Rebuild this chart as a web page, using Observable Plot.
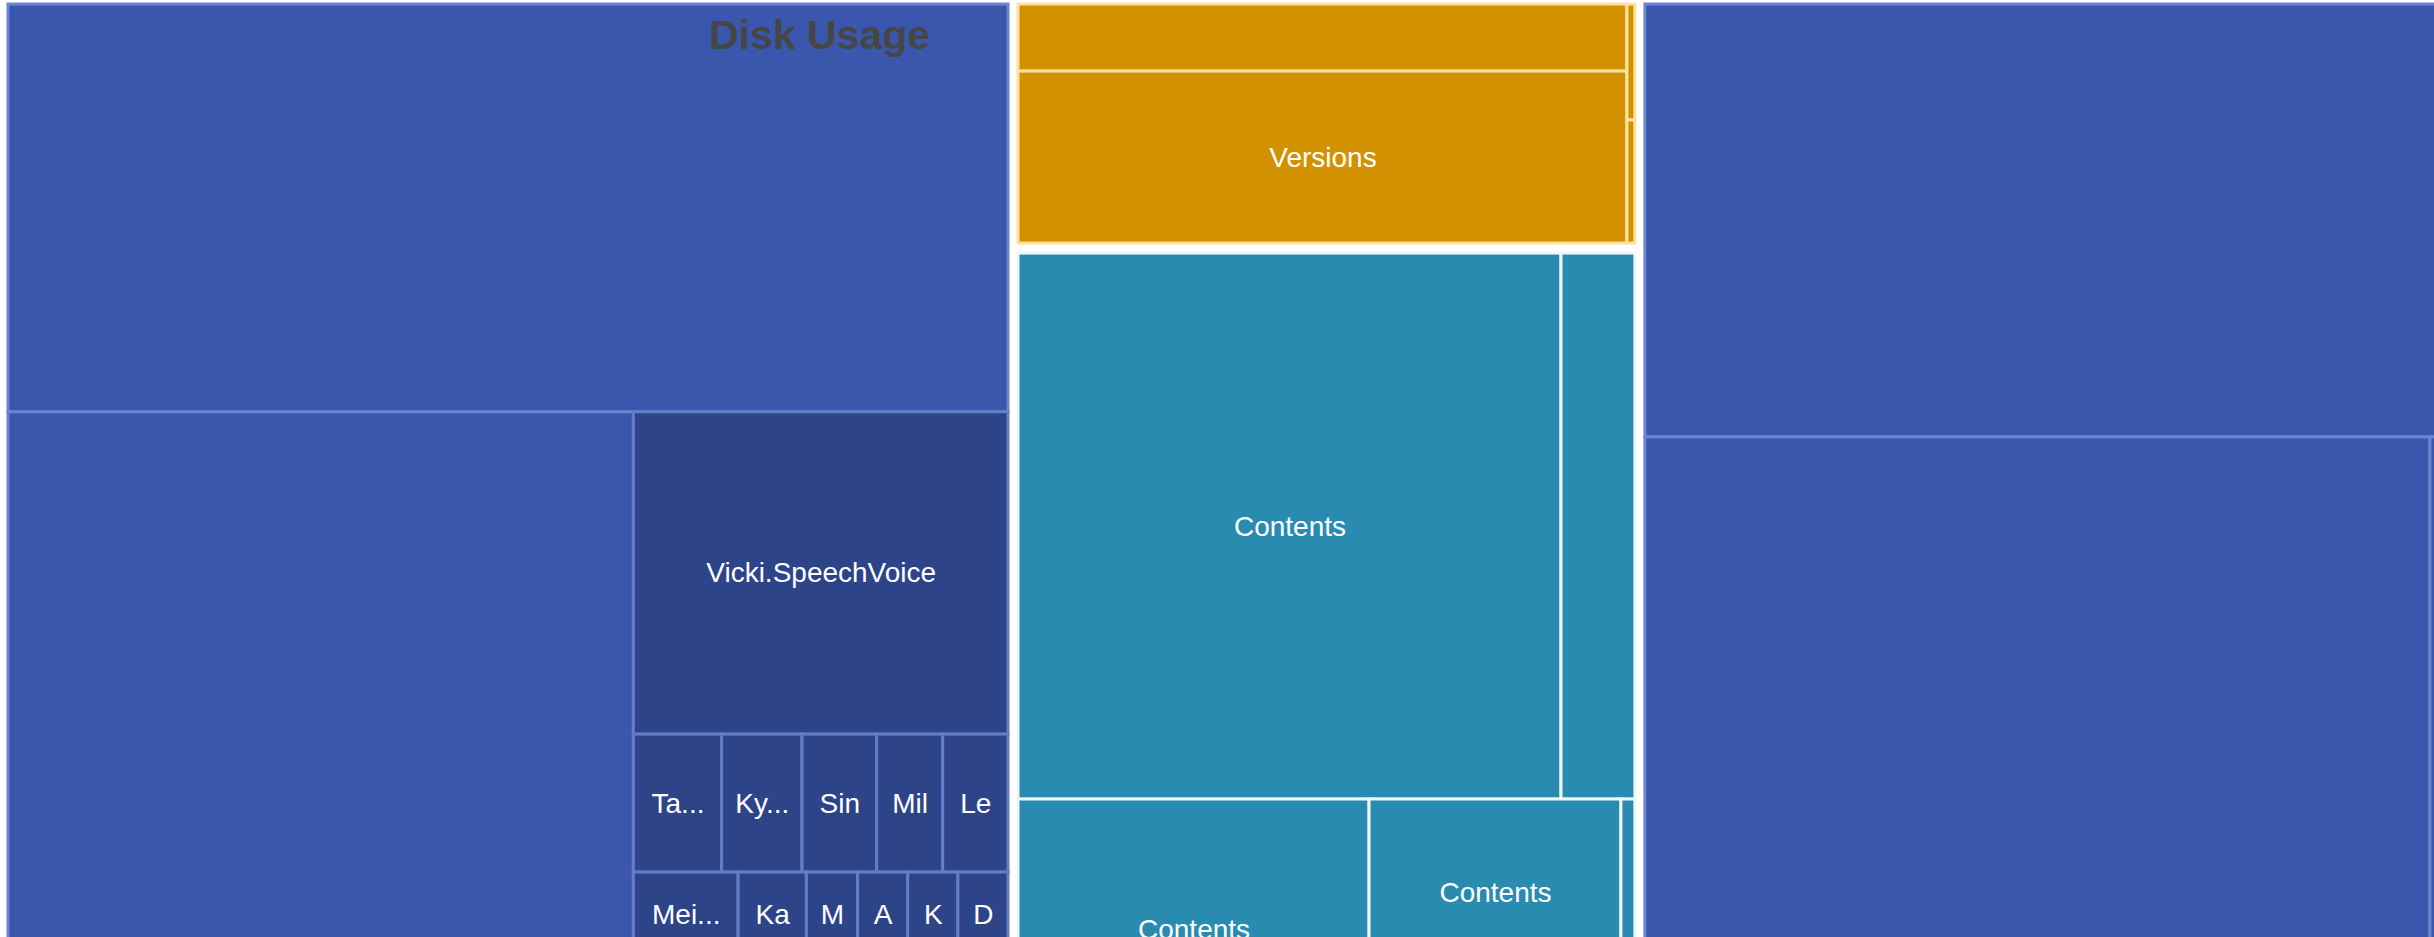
<!DOCTYPE html>
<html>
<head>
<meta charset="utf-8">
<script src="https://cdn.jsdelivr.net/npm/d3@7"></script>
<script src="https://cdn.jsdelivr.net/npm/@observablehq/plot@0.6"></script>
<style>
  html, body { margin: 0; padding: 0; background: #fff; }
  #wrap { position: relative; width: 2434px; height: 937px; overflow: hidden; }
  #title { position: absolute; left: 709px; top: 15px; font: bold 41px "Liberation Sans", Arial, sans-serif;
           line-height: 41px; color: #464646; white-space: nowrap; pointer-events: none; }
</style>
</head>
<body>
<div id="wrap"><div id="chart"></div><div id="title">Disk Usage</div></div>
<script>
// ---------------- data (sizes, arbitrary units) ----------------
const nodeIds = [
  "root",
  "A", "A.top", "A.lower", "A.lower.left",
  "Voices", "Vicki", "Voices.row1", "v.ta", "v.ky", "v.sin", "v.mil", "v.le",
  "Voices.row2", "v.mei", "v.ka", "v.m", "v.a", "v.k", "v.d", "Voices.more",
  "B",
  "Orange", "Orange.main", "Orange.top", "Versions", "Orange.strip", "Orange.s1", "Orange.s2",
  "Teal", "Teal.top", "Contents.1", "Teal.top.strip", "Teal.bottom",
  "Teal.col1", "Contents.2", "Teal.col1.rest", "Teal.col2", "Contents.3", "Teal.col2.rest", "Teal.col3",
  "C", "C.top", "C.bottom", "C.bottom.main", "C.bottom.edge"
];
const nodeParents = [
  null,
  "root", "A", "A", "A.lower",
  "A.lower", "Voices", "Voices", "Voices.row1", "Voices.row1", "Voices.row1", "Voices.row1", "Voices.row1",
  "Voices", "Voices.row2", "Voices.row2", "Voices.row2", "Voices.row2", "Voices.row2", "Voices.row2", "Voices",
  "root",
  "B", "Orange", "Orange.main", "Orange.main", "Orange", "Orange.strip", "Orange.strip",
  "B", "Teal", "Teal.top", "Teal.top", "Teal",
  "Teal.bottom", "Teal.col1", "Teal.col1", "Teal.bottom", "Teal.col2", "Teal.col2", "Teal.bottom",
  "root", "C", "C", "C.bottom", "C.bottom"
];
const nodeSizes = [
  null,
  null, 412, null, 498,
  null, 122, null, 12.3, 11.2, 10.4, 9.2, 9.1,
  null, 8.9, 5.8, 4.35, 4.26, 4.26, 4.26, 92.3,
  null,
  null, null, 42.9, 110.0, null, 0.97, 1.03,
  null, null, 302.0, 41.1, null,
  null, 93.0, 50.4, null, 48.2, 54.7, 5.7,
  null, 374.7, null, 606.2, 54.1
];
const nodeLabels = [
  "",
  "", "", "", "",
  "", "Vicki.SpeechVoice", "", "Ta...", "Ky...", "Sin", "Mil", "Le",
  "", "Mei...", "Ka", "M", "A", "K", "D", "",
  "",
  "", "", "", "Versions", "", "", "",
  "", "", "Contents", "", "",
  "", "Contents", "", "", "Contents", "", "",
  "", "", "", "", ""
];

// ---------------- layout (tiling direction and gaps) ----------------
const splitAcross = new Set(["root", "A.lower", "Voices.row1", "Voices.row2", "Orange",
                             "Teal.top", "Teal.bottom", "C.bottom"]);
const gapOf = new Map([["root", 10], ["B", 10]]);

// ---------------- styles ----------------
const toneOfGroup = new Map([["A", "blue"], ["Voices", "navy"], ["Orange", "orange"],
                             ["Teal", "teal"], ["C", "blue"], ["C.bottom", "blue2"]]);
const tones      = ["blue",    "blue2",   "navy",    "orange",  "teal"];
const toneFills  = ["#3a57ad", "#3856ac", "#2e4489", "#d29200", "#2a8bb0"];
const toneLines  = ["#6a86d0", "#6a86d0", "#627ec9", "#fbe2a2", "#eef6f9"];

const rows = nodeIds.map((id, i) => ({id, parent: nodeParents[i], size: nodeSizes[i], label: nodeLabels[i]}));
const root = d3.stratify().id(d => d.id).parentId(d => d.parent)(rows).sum(d => d.size || 0);

d3.treemap()
  .size([2492, 1196])
  .tile((node, x0, y0, x1, y1) =>
    (splitAcross.has(node.id) ? d3.treemapDice : d3.treemapSlice)(node, x0, y0, x1, y1))
  .paddingInner(node => gapOf.get(node.id) || 0)(root);

function toneFor(n) {
  for (const a of n.ancestors()) if (toneOfGroup.has(a.id)) return toneOfGroup.get(a.id);
  return "blue";
}
const tiles = root.leaves().map(n => ({
  x0: n.x0, x1: n.x1, y0: n.y0, y1: n.y1, tone: toneFor(n), label: n.data.label
}));

const chart = Plot.plot({
  width: 2434,
  height: 937,
  margin: 0,
  x: {domain: [-8, 2426], range: [0, 2434], axis: null},
  y: {domain: [-4, 933], range: [0, 937], axis: null},
  color: {domain: [...tones, ...tones.map(t => t + "-line")], range: [...toneFills, ...toneLines]},
  style: {background: "#fff"},
  marks: [
    Plot.rect(tiles, {x1: "x0", x2: "x1", y1: "y0", y2: "y1", fill: "tone",
                      stroke: d => d.tone + "-line", strokeWidth: 3, clip: true}),
    Plot.text(tiles.filter(d => d.label), {
      x: d => (d.x0 + d.x1) / 2, y: d => (d.y0 + d.y1) / 2, text: "label",
      fill: "white", fontSize: 28, fontFamily: "Liberation Sans, Arial, sans-serif", clip: true
    })
  ]
});
document.getElementById("chart").appendChild(chart);
</script>
</body>
</html>
